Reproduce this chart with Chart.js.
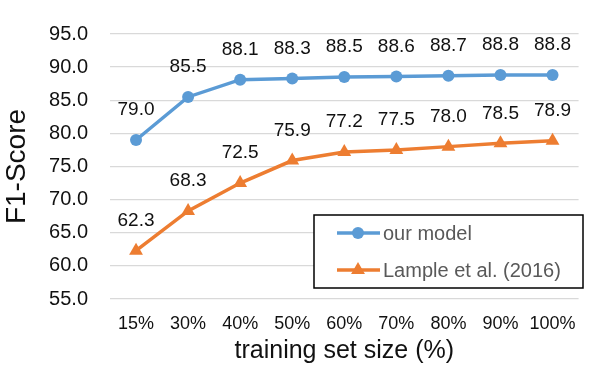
<!DOCTYPE html>
<html>
<head>
<meta charset="utf-8">
<script src="https://cdn.jsdelivr.net/npm/chart.js@4.4.1/dist/chart.umd.min.js"></script>
<style>
  html, body { margin: 0; padding: 0; background: #fff; }
  #wrap { width: 590px; height: 366px; position: relative; }
</style>
</head>
<body>
<div id="wrap"><canvas id="c"></canvas></div>
<script>
(() => {
  "use strict";

  const sizes = ["15%", "30%", "40%", "50%", "60%", "70%", "80%", "90%", "100%"];
  const ourModel = [79.0, 85.5, 88.1, 88.3, 88.5, 88.6, 88.7, 88.8, 88.8];
  const lample = [62.3, 68.3, 72.5, 75.9, 77.2, 77.5, 78.0, 78.5, 78.9];
  const seriesNames = ["our model", "Lample et al. (2016)"];

  const FONT = "'Liberation Sans', Arial, sans-serif";
  const BLUE = "#5b9bd5";
  const ORANGE = "#ed7d31";

  // value labels above every point
  const valueLabels = {
    id: "valueLabels",
    afterDatasetsDraw(chart) {
      const ctx = chart.ctx;
      ctx.save();
      ctx.font = "19px " + FONT;
      ctx.fillStyle = "#111";
      ctx.textAlign = "center";
      ctx.textBaseline = "middle";
      chart.data.datasets.forEach((ds, di) => {
        chart.getDatasetMeta(di).data.forEach((pt, i) => {
          ctx.fillText(ds.data[i].toFixed(1), pt.x, pt.y - 30);
        });
      });
      ctx.restore();
    }
  };

  // boxed legend in the lower right of the plot
  const boxLegend = {
    id: "boxLegend",
    afterDraw(chart) {
      const ctx = chart.ctx;
      const box = { x: 314, y: 215, w: 269, h: 73 };
      ctx.save();
      ctx.fillStyle = "#fff";
      ctx.fillRect(box.x, box.y, box.w, box.h);
      ctx.strokeStyle = "#000";
      ctx.lineWidth = 1.5;
      ctx.strokeRect(box.x, box.y, box.w, box.h);
      chart.data.datasets.forEach((ds, i) => {
        const y = 233 + i * 37;
        ctx.strokeStyle = ds.borderColor;
        ctx.lineWidth = 3.5;
        ctx.beginPath();
        ctx.moveTo(337, y);
        ctx.lineTo(380, y);
        ctx.stroke();
        ctx.fillStyle = ds.pointBackgroundColor;
        Chart.helpers.drawPoint(ctx, {
          pointStyle: ds.pointStyle,
          radius: ds.pointRadius,
          borderWidth: 0,
          rotation: 0
        }, 358, y);
        ctx.fillStyle = "#595959";
        ctx.font = "20px " + FONT;
        ctx.textAlign = "left";
        ctx.textBaseline = "middle";
        ctx.fillText(ds.label, 383, y + 1);
      });
      ctx.restore();
    }
  };

  new Chart(document.getElementById("c"), {
    type: "line",
    data: {
      labels: sizes,
      datasets: [
        {
          label: seriesNames[0],
          data: ourModel,
          borderColor: BLUE,
          backgroundColor: BLUE,
          pointBackgroundColor: BLUE,
          pointBorderWidth: 0,
          pointStyle: "circle",
          pointRadius: 6,
          borderWidth: 3.5,
          tension: 0
        },
        {
          label: seriesNames[1],
          data: lample,
          borderColor: ORANGE,
          backgroundColor: ORANGE,
          pointBackgroundColor: ORANGE,
          pointBorderWidth: 0,
          pointStyle: "triangle",
          pointRadius: 8,
          borderWidth: 3.5,
          tension: 0
        }
      ]
    },
    options: {
      responsive: true,
      maintainAspectRatio: false,
      animation: false,
      devicePixelRatio: 1,
      layout: { padding: { left: 0, right: 0, top: 34, bottom: 0 } },
      plugins: {
        legend: { display: false },
        tooltip: { enabled: false }
      },
      scales: {
        x: {
          offset: true,
          grid: { display: false, drawTicks: false },
          border: { display: false },
          ticks: { color: "#111", font: { family: FONT, size: 18 }, padding: 14, maxRotation: 0 },
          title: {
            display: true,
            text: "training set size (%)",
            color: "#111",
            font: { family: FONT, size: 25 },
            padding: { top: 0, bottom: 0 }
          },
          afterFit(s) { s.height = 67; }
        },
        y: {
          min: 55,
          max: 95,
          grid: { color: "#d9d9d9", lineWidth: 1.3, drawTicks: false },
          border: { display: false },
          ticks: {
            stepSize: 5,
            color: "#111",
            font: { family: FONT, size: 20 },
            padding: 22,
            callback: (v) => v.toFixed(1)
          },
          title: {
            display: true,
            text: "F1-Score",
            color: "#111",
            font: { family: FONT, size: 28 },
            padding: { top: 0, bottom: 0 }
          },
          afterFit(s) { s.width = 110; }
        }
      }
    },
    plugins: [valueLabels, boxLegend]
  });
})();
</script>
</body>
</html>
